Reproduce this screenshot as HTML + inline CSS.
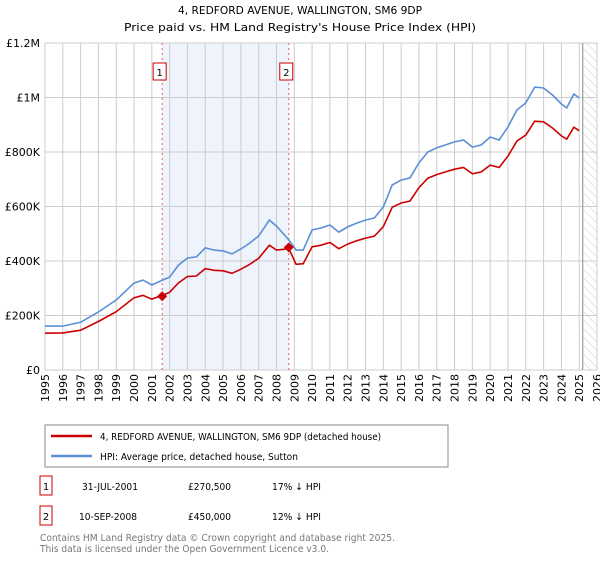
<!DOCTYPE html>
<html><head><meta charset="utf-8"><style>
body{margin:0;background:#fff;font-family:"Liberation Sans","DejaVu Sans",sans-serif;}
svg text{font-family:"DejaVu Sans","Liberation Sans",sans-serif;}
</style></head><body>
<svg id="c" width="600" height="560" xmlns="http://www.w3.org/2000/svg">
<defs><pattern id="h" width="6" height="6" patternUnits="userSpaceOnUse" patternTransform="rotate(-45)"><line x1="0" y1="0" x2="0" y2="6" stroke="#ccc" stroke-width="1"/></pattern></defs>
<text x="300" y="14" text-anchor="middle" font-size="11" textLength="244" lengthAdjust="spacingAndGlyphs" fill="#000">4, REDFORD AVENUE, WALLINGTON, SM6 9DP</text>
<text x="300" y="31" text-anchor="middle" font-size="11" textLength="352" lengthAdjust="spacingAndGlyphs" fill="#000">Price paid vs. HM Land Registry's House Price Index (HPI)</text>
<g id="plot"></g>
<rect x="45" y="425" width="403" height="42" fill="#fff" stroke="#888"/>
<line x1="51" y1="436" x2="92" y2="436" stroke="#cc0000" stroke-width="2.5"/>
<text x="100" y="440" font-size="10" textLength="281" lengthAdjust="spacingAndGlyphs">4, REDFORD AVENUE, WALLINGTON, SM6 9DP (detached house)</text>
<line x1="51" y1="456" x2="92" y2="456" stroke="#5b8fd6" stroke-width="2.5"/>
<text x="100" y="460" font-size="10" textLength="198" lengthAdjust="spacingAndGlyphs">HPI: Average price, detached house, Sutton</text>
<rect x="40" y="476" width="12" height="19" fill="#fff" stroke="#cc0000"/>
<text x="46" y="490" text-anchor="middle" font-size="10">1</text>
<text x="82" y="490" font-size="10" textLength="56" lengthAdjust="spacingAndGlyphs">31-JUL-2001</text>
<text x="188" y="490" font-size="10" textLength="43" lengthAdjust="spacingAndGlyphs">£270,500</text>
<text x="272" y="490" font-size="10" textLength="49" lengthAdjust="spacingAndGlyphs">17% ↓ HPI</text>
<rect x="40" y="506" width="12" height="19" fill="#fff" stroke="#cc0000"/>
<text x="46" y="520" text-anchor="middle" font-size="10">2</text>
<text x="79" y="520" font-size="10" textLength="58" lengthAdjust="spacingAndGlyphs">10-SEP-2008</text>
<text x="188" y="520" font-size="10" textLength="43" lengthAdjust="spacingAndGlyphs">£450,000</text>
<text x="272" y="520" font-size="10" textLength="49" lengthAdjust="spacingAndGlyphs">12% ↓ HPI</text>
<text x="40" y="541" font-size="10" textLength="355" lengthAdjust="spacingAndGlyphs" fill="#777">Contains HM Land Registry data © Crown copyright and database right 2025.</text>
<text x="40" y="552" font-size="10" textLength="289" lengthAdjust="spacingAndGlyphs" fill="#777">This data is licensed under the Open Government Licence v3.0.</text>
</svg>
<script>
const yearTicks=[1995,1996,1997,1998,1999,2000,2001,2002,2003,2004,2005,2006,2007,2008,2009,2010,2011,2012,2013,2014,2015,2016,2017,2018,2019,2020,2021,2022,2023,2024,2025,2026];
const valueTicks=[0,200000,400000,600000,800000,1000000,1200000];
const valueLabels=["£0","£200K","£400K","£600K","£800K","£1M","£1.2M"];
const hpiYears=[1995,1996,1997,1998,1999,2000,2000.5,2001,2001.6,2002,2002.5,2003,2003.5,2004,2004.5,2005,2005.5,2006,2006.5,2007,2007.6,2008,2008.7,2009.1,2009.5,2010,2010.5,2011,2011.5,2012,2012.5,2013,2013.5,2014,2014.5,2015,2015.5,2016,2016.5,2017,2017.5,2018,2018.5,2019,2019.5,2020,2020.5,2021,2021.5,2022,2022.5,2023,2023.5,2024,2024.3,2024.7,2025];
const hpiValues=[161000,161000,175000,213000,257000,319000,330000,312000,330000,341000,385000,411000,415000,448000,440000,437000,426000,444000,466000,492000,550000,528000,477000,440000,440000,514000,521000,532000,506000,525000,539000,550000,558000,598000,679000,697000,705000,760000,800000,815000,826000,837000,844000,818000,826000,855000,844000,892000,954000,980000,1038000,1035000,1009000,976000,962000,1013000,998000];
const propYears=hpiYears;
const propValues=[135000,136000,146000,178000,214000,265000,274000,260000,274000,285000,320000,343000,345000,372000,366000,364000,355000,370000,388000,410000,458000,440000,445000,388000,390000,452000,458000,468000,445000,462000,474000,484000,491000,526000,597000,613000,620000,669000,704000,717000,727000,737000,743000,720000,727000,752000,743000,785000,840000,862000,913000,911000,888000,859000,847000,891000,878000];
const saleYears=[2001.58,2008.69];
const saleValues=[270500,450000];
const saleLabels=["1","2"];
const X0=45,X1=597,Y0=370,Y1=43;
const x=y=>X0+(y-1995)/(2026-1995)*(X1-X0);
const yv=v=>Y0-v/1200000*(Y0-Y1);
const g=document.getElementById('plot');
const NS='http://www.w3.org/2000/svg';
function mk(t,a){const e=document.createElementNS(NS,t);for(const k in a)e.setAttribute(k,a[k]);g.appendChild(e);return e;}
let e=mk('rect',{x:x(saleYears[0]),y:Y1,width:x(saleYears[1])-x(saleYears[0]),height:Y0-Y1,fill:'#eef3fc'});


e=mk('rect',{x:x(2025.2),y:Y1,width:X1-x(2025.2),height:Y0-Y1,fill:'url(#h)'});


yearTicks.forEach(t=>{const l=mk('line',{x1:x(t),x2:x(t),y1:Y1,y2:Y0,stroke:'#ccc'});


const px=x(t)+4,py=374;
const s=mk('text',{x:px,y:py,'font-size':11,'text-anchor':'end',transform:`rotate(-90 ${px} ${py})`});s.textContent=t;

});
valueTicks.forEach((v,i)=>{const l=mk('line',{x1:X0,x2:X1,y1:yv(v),y2:yv(v),stroke:'#ccc'});


const s=mk('text',{x:40,y:yv(v)+4,'font-size':11,'text-anchor':'end'});s.textContent=valueLabels[i];

});
e=mk('line',{x1:x(2025.2),x2:x(2025.2),y1:Y1,y2:Y0,stroke:'#888'});


saleYears.forEach((s,i)=>{const l=mk('line',{x1:x(s),x2:x(s),y1:Y1,y2:Y0,stroke:'#e06060','stroke-dasharray':'2,3'});


const r=mk('rect',{x:x(s)-9,y:63,width:13,height:17,fill:'#fff',stroke:'#cc0000'});


const t=mk('text',{x:x(s)-2.5,y:76,'font-size':10,'text-anchor':'middle'});t.textContent=saleLabels[i];

});
function path(xs,vs){return xs.map((a,i)=>(i?'L':'M')+x(a).toFixed(1)+','+yv(vs[i]).toFixed(1)).join('');}
e=mk('path',{d:path(hpiYears,hpiValues),fill:'none',stroke:'#5b8fd6','stroke-width':1.6});


e=mk('path',{d:path(propYears,propValues),fill:'none',stroke:'#cc0000','stroke-width':1.6});


saleYears.forEach((s,i)=>{const cx=x(s),cy=yv(saleValues[i]);
const p=mk('path',{d:`M${cx},${cy-5}L${cx+5},${cy}L${cx},${cy+5}L${cx-5},${cy}Z`,fill:'#cc0000'});

});
</script>
</body></html>
